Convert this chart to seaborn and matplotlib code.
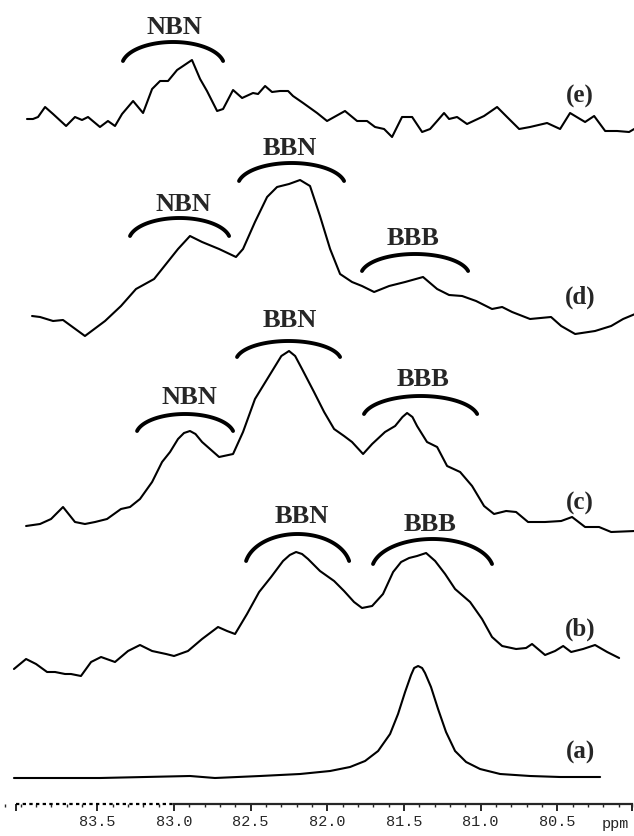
import numpy as np
import pandas as pd
import matplotlib
matplotlib.use("Agg")
import matplotlib.pyplot as plt
import matplotlib.ticker as mticker
import seaborn as sns

# chemical shift (ppm) and height above each trace's baseline
ppm_e = [83.959, 83.920, 83.887, 83.841, 83.789, 83.704, 83.646, 83.600, 83.561, 83.483,
         83.431, 83.385, 83.339, 83.267, 83.202, 83.143, 83.091, 83.039, 82.980, 82.941,
         82.883, 82.830, 82.785, 82.719, 82.680, 82.615, 82.556, 82.485, 82.452, 82.406,
         82.361, 82.309, 82.256, 82.224, 82.158, 82.067, 82.002, 81.885, 81.806, 81.741,
         81.689, 81.630, 81.578, 81.513, 81.447, 81.382, 81.330, 81.284, 81.239, 81.206,
         81.154, 81.089, 80.978, 80.893, 80.828, 80.749, 80.678, 80.567, 80.482, 80.417,
         80.352, 80.319, 80.260, 80.188, 80.110, 80.032, 79.999]
int_e = [5, 5, 7, 17, 10, -2, 7, 4, 7, -3,
         3, -2, 10, 23, 11, 35, 43, 43, 54, 58,
         64, 45, 33, 13, 15, 34, 26, 31, 30, 38,
         32, 33, 33, 28, 21, 11, 3, 13, 3, 3,
         -3, -5, -13, 7, 7, -8, -5, 3, 11, 5,
         7, 0, 8, 17, 7, -5, -3, 1, -5, 11,
         5, 2, 8, -7, -7, -8, -5]

ppm_d = [83.926, 83.874, 83.789, 83.724, 83.581, 83.450, 83.346, 83.248, 83.130, 83.052,
         82.974, 82.896, 82.817, 82.706, 82.596, 82.550, 82.472, 82.393, 82.328, 82.250,
         82.178, 82.113, 82.048, 81.982, 81.917, 81.839, 81.774, 81.695, 81.597, 81.493,
         81.376, 81.284, 81.206, 81.121, 81.030, 80.926, 80.860, 80.795, 80.678, 80.541,
         80.475, 80.384, 80.254, 80.149, 80.071, 79.993]
int_d = [3, 2, -2, -1, -17, -2, 13, 30, 40, 55,
         70, 83, 77, 70, 62, 70, 97, 122, 132, 135,
         139, 133, 103, 70, 45, 37, 33, 27, 33, 37,
         42, 30, 24, 23, 18, 10, 12, 7, 0, 2,
         -7, -15, -12, -7, 0, 5]

ppm_c = [83.965, 83.874, 83.802, 83.724, 83.646, 83.581, 83.515, 83.437, 83.346, 83.287,
         83.222, 83.143, 83.078, 83.026, 82.974, 82.935, 82.896, 82.860, 82.817, 82.706,
         82.615, 82.550, 82.472, 82.380, 82.300, 82.250, 82.210, 82.165, 82.087, 82.021,
         81.956, 81.891, 81.839, 81.767, 81.708, 81.624, 81.558, 81.510, 81.480, 81.445,
         81.415, 81.350, 81.284, 81.219, 81.134, 81.056, 80.978, 80.913, 80.834, 80.769,
         80.691, 80.580, 80.475, 80.404, 80.319, 80.228, 80.149, 79.993]
int_c = [-2, 0, 5, 17, 2, 0, 2, 5, 15, 17,
         25, 42, 62, 72, 85, 91, 93, 90, 82, 67,
         70, 92, 125, 148, 168, 173, 168, 155, 132, 112,
         95, 88, 82, 70, 80, 92, 98, 107, 111, 107,
         98, 82, 77, 58, 52, 38, 18, 10, 13, 12,
         2, 2, 3, 7, -3, -3, -8, -7]

ppm_b = [84.044, 83.965, 83.900, 83.828, 83.776, 83.711, 83.672, 83.607, 83.541, 83.476,
         83.385, 83.300, 83.222, 83.143, 83.052, 83.000, 82.909, 82.817, 82.713, 82.654,
         82.602, 82.524, 82.445, 82.367, 82.289, 82.245, 82.204, 82.165, 82.126, 82.048,
         81.956, 81.891, 81.826, 81.774, 81.708, 81.637, 81.571, 81.519, 81.467, 81.415,
         81.356, 81.297, 81.232, 81.167, 81.069, 80.991, 80.926, 80.860, 80.769, 80.704,
         80.665, 80.580, 80.515, 80.462, 80.410, 80.332, 80.254, 80.175, 80.097]
int_b = [0, 10, 5, -3, -3, -5, -5, -7, 7, 12,
         7, 18, 24, 18, 15, 13, 18, 30, 42, 38,
         35, 55, 77, 92, 108, 114, 117, 115, 110, 98,
         88, 78, 67, 61, 63, 75, 97, 107, 111, 113,
         116, 108, 95, 80, 67, 50, 32, 23, 20, 21,
         25, 14, 18, 23, 17, 20, 24, 17, 11]

ppm_a = [84.044, 83.483, 82.896, 82.733, 82.439, 82.178, 81.982, 81.852, 81.754, 81.669,
         81.591, 81.539, 81.493, 81.454, 81.434, 81.408, 81.382, 81.363, 81.324, 81.278,
         81.226, 81.167, 81.095, 81.004, 80.873, 80.678, 80.482, 80.221]
int_a = [0, 0, 2, 0, 2, 4, 7, 11, 17, 27,
         44, 64, 86, 103, 110, 112, 110, 105, 91, 69,
         46, 27, 16, 9, 4, 2, 1, 1]

trace_names = ["(a)", "(b)", "(c)", "(d)", "(e)"]
trace_offsets = [58, 167, 312, 517, 712]

# bracket annotations: (text, left ppm, right ppm, top, drop, label baseline, label ppm)
brackets = [
    ("NBN", 83.333, 82.680, 794, 19, 803, 83.000),
    ("BBN", 82.576, 81.891, 673, 18, 682, 82.243),
    ("NBN", 83.287, 82.641, 618, 18, 626, 82.941),
    ("BBB", 81.774, 81.082, 582, 17, 592, 81.441),
    ("BBN", 82.589, 81.917, 495, 16, 510, 82.243),
    ("NBN", 83.241, 82.615, 422, 17, 433, 82.902),
    ("BBB", 81.761, 81.023, 440, 18, 451, 81.376),
    ("BBN", 82.530, 81.858, 302, 27, 314, 82.165),
    ("BBB", 81.702, 80.926, 297, 25, 306, 81.330),
]
label_baselines = [78, 201, 327, 533, 734]
label_ppm = 80.352

tick_pos = [84.03, 83.5, 83.0, 82.5, 82.0, 81.5, 81.0, 80.5, 80.01]
tick_labels = ["", "83.5", "83.0", "82.5", "82.0", "81.5", "81.0", "80.5", ""]

sns.set_style("white")
serif = ["Liberation Serif", "DejaVu Serif"]
mono = ["Liberation Mono", "DejaVu Sans Mono"]

fig = plt.figure(figsize=(6.34, 8.37), dpi=100)
ax = fig.add_axes([0, 32 / 837, 1, 805 / 837])

frames = []
for name, off, xs, ys in zip(trace_names, trace_offsets,
                             [ppm_a, ppm_b, ppm_c, ppm_d, ppm_e],
                             [int_a, int_b, int_c, int_d, int_e]):
    frames.append(pd.DataFrame({"ppm": xs, "y": np.array(ys) + off, "trace": name}))
df = pd.concat(frames, ignore_index=True)

sns.lineplot(data=df, x="ppm", y="y", units="trace", estimator=None, sort=False,
             color="black", linewidth=1.5, ax=ax, legend=False)
for line in ax.get_lines():
    line.set_solid_joinstyle("round")

# curly brackets over the peak groups
for text, left, right, top, drop, base, lx in brackets:
    th0 = np.deg2rad(12)
    th = np.linspace(th0, np.pi - th0, 80)
    a = (left - right) / 2 / np.cos(th0)
    b = drop / (1 - np.sin(th0))
    cx = (left + right) / 2
    ax.plot(cx + a * np.cos(th), top - b + b * np.sin(th), color="black",
            linewidth=2.8, solid_capstyle="round")
    ax.text(lx, base, text, ha="center", va="baseline", fontsize=19,
            fontweight="bold", family=serif)

for name, base in zip(trace_names, label_baselines):
    ax.text(label_ppm, base, name, ha="center", va="baseline", fontsize=18,
            fontweight="bold", family=serif)

ax.set_xlim(84.135, 80.0)
ax.set_ylim(32, 837)
for s in ["left", "right", "top"]:
    ax.spines[s].set_visible(False)
ax.spines["bottom"].set_bounds(83.0, 80.01)
ax.spines["bottom"].set_linewidth(1.6)
ax.plot([84.03, 83.0], [32, 32], color="black", linewidth=1.6, linestyle=(0, (1.5, 1.5)),
        clip_on=False)
ax.set_yticks([])
ax.xaxis.set_major_locator(mticker.FixedLocator(tick_pos))
ax.set_xticklabels(tick_labels, family=mono, fontsize=11)
ax.xaxis.set_minor_locator(mticker.MultipleLocator(0.1))
ax.tick_params(axis="x", which="major", direction="out", length=5, width=1.4, pad=2,
               bottom=True)
ax.tick_params(axis="x", which="minor", direction="out", length=2.5, width=1.0, bottom=True)
ax.set_xlabel("")
ax.set_ylabel("")
ax.text(80.123, 9, "ppm", ha="center", va="baseline", fontsize=11, family=mono,
        transform=ax.transData, clip_on=False)

fig.savefig("out.png", dpi=100)
